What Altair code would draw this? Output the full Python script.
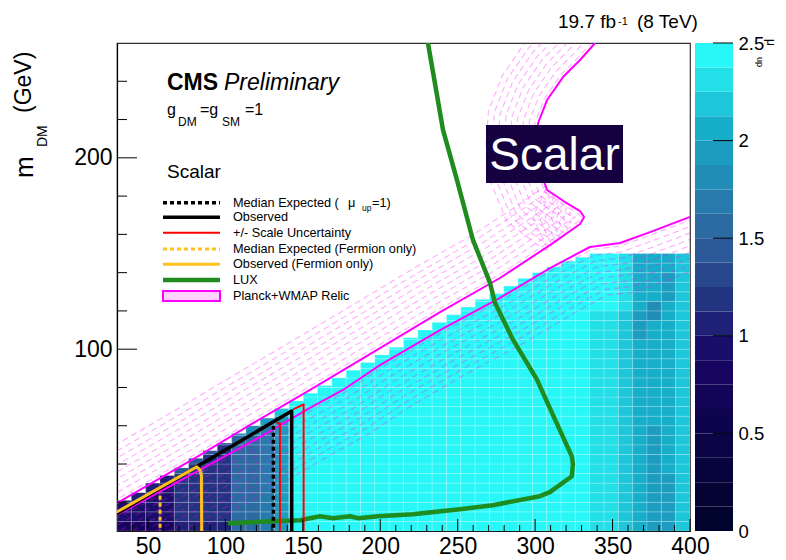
import altair as alt
import pandas as pd
import numpy as np

FONT = "Liberation Sans"
W, H = 573, 488
X0, X1 = 30.0, 400.0
Y0, Y1 = 5.0, 260.0

# ---------------- data ----------------
# heat-map bins along the mediator mass (GeV)
mmed_edges = [30.0, 39.25, 48.5, 57.75, 67.0, 76.25, 85.5, 94.75, 104.0, 113.25,
              122.5, 131.75, 141.0, 150.25, 159.5, 168.75, 178.0, 187.25, 196.5, 205.75,
              215.0, 224.25, 233.5, 242.75, 252.0, 261.25, 270.5, 279.75, 289.0, 298.25,
              307.5, 316.75, 326.0, 335.25, 344.5, 353.75, 363.0, 372.25, 381.5, 390.75, 400.0]
# lower edges of the DM-mass rows (GeV), 5 GeV high
mdm_row_low = [5, 10, 15, 20, 25, 30, 35, 40, 45, 50, 55, 60, 65, 70, 75, 80, 85, 90,
               95, 100, 105, 110, 115, 120, 125, 130, 135, 140, 145]
# upper edge of the filled area in each mediator column (GeV)
col_top = [21, 25, 30, 34, 38, 43, 47, 51, 56, 60, 64, 69, 73, 77, 81, 85, 89, 93, 97, 101,
           106, 110, 114, 118, 122, 126, 129, 133, 137, 140, 143, 146, 148, 150, 150, 150, 150, 150, 150, 150]
# mu_up level per cell ('0'..'j' = 20 bands of 0.125, 'j' = 2.5 and above); top row first
mu_grid = [
    ".......... .......... .......... .jjjjigggh",
    ".......... .......... .......... jjjjjigggh",
    ".......... .......... ........jj jjjjjiggfh",
    ".......... .......... .......jjj jjjjjiggfh",
    ".......... .......... .....jjjjj jjjjjiggfh",
    ".......... .......... ....jjjjjj jjjjjigegh",
    ".......... .......... ...jjjjjjj jjjiihfegh",
    ".......... .......... ..jjjjjjjj jjjiihfggh",
    ".......... .......... jjjjjjjjjj jjjiihfggh",
    ".......... .........j jjjjjjjjjj jjjiihgggh",
    ".......... ........jj jjjjjjjjjj jjjiihgggh",
    ".......... .......jjj jjjjjjjjjj jjjiihgggh",
    ".......... ......jjjj jjjjjjjjjj jjjiihgggh",
    ".......... ....jjjjjj jjjjjjjjjj jjjiihgggh",
    ".......... ...jjjjjjj jjjjjjjjjj jjjiihgggh",
    ".......... ..jjjjjjjj jjjjjjjjjj jjjiihgggh",
    ".......... .hjjjjjjjj jjjjjjjjjj jjjiihgggh",
    ".......... ffjjjjjjjj jjjjjjjjjj jjjiihgggh",
    "........ee dfjjjjjjjj jjjjjjjjjj jjjiihgfgh",
    ".......bcc dfjjjjjjjj jjjjjjjjjj jjjiihgfgh",
    "......b9cc dfjjjjjjjj jjjjjjjjjj jjjiihgfgh",
    ".....b99cc dfjjjjjjjj jjjjjjjjjj jjjiihgfgh",
    "....b999cc dfjjjjjjjj jjjjjjjjjj jjjiihgfgh",
    "...89999cc dfjjjjjjjj jjjjjjjjjj jjjiihgffh",
    "..879999cc dfjjjjjjjj jjjjjjjjjj jjjiihgffh",
    "88779999cc dfjjjjjjjj jjjjjjjjjj jjjiihgffh",
    "77779999cc dfjjjjjjjj jjjjjjjjjj jjjiihgffh",
    "77779999cc dfjjjjjjjj jjjjjjjjjj jjjiihgffh",
    "66668888cc dfjjjjjjjj jjjjjjjjjj jjjiihgffh",
]
LEVELS = "0123456789abcdefghij"

# limit curves (mediator mass, DM mass) in GeV
lux_mmed = [229.1, 230.8, 240.5, 249.5, 259.8, 270.8, 274.0, 285.6, 301.1, 312.8, 323.7, 324.4,
            323.7, 309.5, 303.1, 272.7, 251.4, 221.1, 198.5, 185.6, 180.4, 169.4, 161.1, 148.1, 101.7]
lux_mdm = [268.0, 260.0, 214.6, 188.5, 157.2, 134.8, 124.4, 105.1, 84.2, 63.3, 44.0, 39.9,
           33.6, 25.3, 23.2, 18.5, 16.4, 13.8, 12.7, 11.7, 12.7, 11.7, 12.7, 10.6, 9.1]

relicA_mmed = [22.0, 30.0, 83.6, 115.9, 156.6, 199.8, 238.6, 277.3, 309.6, 329.0, 331.6, 329.0,
               319.3, 307.7, 303.1, 301.2, 301.9, 307.7, 318.0, 329.0, 338.7, 348.4]
relicA_mdm = [15.9, 19.6, 44.7, 60.4, 79.7, 100.6, 119.4, 137.2, 154.4, 165.4, 169.1, 172.2,
              176.9, 183.2, 193.6, 207.7, 218.2, 230.2, 242.2, 251.1, 260.0, 267.8]
relicB_mmed = [22.0, 30.0, 83.6, 122.3, 154.6, 175.9, 199.8, 238.6, 277.3, 309.6, 335.4, 354.8,
               374.2, 400.0, 410.0]
relicB_mdm = [9.9, 13.4, 36.9, 54.1, 69.3, 78.7, 91.7, 110.0, 126.8, 142.4, 153.4, 155.5,
              161.2, 169.1, 172.2]

obs_mmed = [25.0, 82.5, 142.8, 142.8]
obs_mdm = [11.8, 39.1, 67.7, 3.0]
exp_mmed = [131.0, 131.0]
exp_mdm = [3.0, 60.5]
scale_lo_mmed = [133.1, 135.2, 135.2]
scale_lo_mdm = [61.3, 61.3, 3.0]
scale_hi_mmed = [143.8, 150.5, 150.5]
scale_hi_mdm = [68.6, 71.2, 3.0]
ferm_obs_mmed = [25.0, 81.5, 83.5, 84.5, 84.7]
ferm_obs_mdm = [12.7, 38.5, 37.0, 34.0, 3.0]
ferm_exp_mmed = [57.8, 57.8]
ferm_exp_mdm = [3.0, 25.1]

legend_labels = ["Median Expected (", "Observed", "+/- Scale Uncertainty",
                 "Median Expected (Fermion only)", "Observed (Fermion only)", "LUX",
                 "Planck+WMAP Relic"]

x_major = [50, 100, 150, 200, 250, 300, 350, 400]
x_minor = [40, 60, 70, 80, 90, 110, 120, 130, 140, 160, 170, 180, 190, 210, 220, 230, 240,
           260, 270, 280, 290, 310, 320, 330, 340, 360, 370, 380, 390]
y_major = [100, 200]
y_minor = [20, 40, 60, 80, 120, 140, 160, 180, 220, 240]
cbar_ticks = [0, 0.5, 1, 1.5, 2, 2.5]

# ---------------- styling helpers ----------------
def palette20():
    stops = [0.0, 0.34, 0.61, 0.84, 1.0]
    R = [0.00, 0.09, 0.18, 0.09, 0.16]
    G = [0.01, 0.02, 0.39, 0.68, 0.97]
    B = [0.17, 0.39, 0.62, 0.79, 0.97]
    out = []
    for i in range(20):
        f = i / 19
        r, g, b = (np.interp(f, stops, c) for c in (R, G, B))
        out.append('#%02x%02x%02x' % (int(round(r * 255)), int(round(g * 255)), int(round(b * 255))))
    return out

PAL = palette20()
xs = alt.Scale(domain=[X0, X1], nice=False, zero=False)
ys = alt.Scale(domain=[Y0, Y1], nice=False, zero=False)
cs = alt.Scale(type='quantize', domain=[0, 2.5], range=PAL, nice=False, zero=False)

one = pd.DataFrame({'a': [0]})

def X(f='x'):
    return alt.X(f + ':Q', scale=xs, title=None)

def Y(f='y'):
    return alt.Y(f + ':Q', scale=ys, title=None)

def curve(mx, my, color, width, dash=None, opacity=1.0):
    df = pd.DataFrame({'x': mx, 'y': my, 'i': list(range(len(mx)))})
    kw = dict(color=color, strokeWidth=width, clip=True, strokeJoin='round', opacity=opacity)
    if dash:
        kw['strokeDash'] = dash
    return alt.Chart(df).mark_line(**kw).encode(x=X(), y=Y(), order='i:Q')

def hatch_rows(mx, my, side, offsets):
    # rows of dashes running parallel to a contour, on one side of it (ROOT-style hatching)
    px = (np.array(mx) - X0) * W / (X1 - X0)
    py = (Y1 - np.array(my)) * H / (Y1 - Y0)
    tx, ty = np.gradient(px), np.gradient(py)
    n = np.hypot(tx, ty)
    tx, ty = tx / n, ty / n
    nx, ny = side * ty, -side * tx
    frames = []
    for j, d in enumerate(offsets):
        ox = X0 + (px + d * nx) * (X1 - X0) / W
        oy = Y1 - (py + d * ny) * (Y1 - Y0) / H
        frames.append(pd.DataFrame({'x': ox, 'y': oy, 'i': list(range(len(ox))), 'row': j}))
    df = pd.concat(frames)
    return alt.Chart(df).mark_line(color='#ff00ff', strokeWidth=1.2, opacity=0.3,
                                   strokeDash=[6, 4], clip=True).encode(
        x=X(), y=Y(), detail='row:N', order='i:Q')

def txt(s, x, y, size, **kw):
    base = dict(text=s, fontSize=size, font=FONT, align='left', baseline='alphabetic', color='black')
    base.update(kw)
    return alt.Chart(one).mark_text(**base).encode(x=alt.value(x), y=alt.value(y))

def seg(x1, x2, y, color, width, dash=None):
    kw = dict(color=color, strokeWidth=width)
    if dash:
        kw['strokeDash'] = dash
    return alt.Chart(one).mark_rule(**kw).encode(x=alt.value(x1), x2=alt.value(x2), y=alt.value(y))

# ---------------- heat map ----------------
cells = []
for r, line in enumerate(mu_grid[::-1]):
    line = line.replace(" ", "")
    lo = mdm_row_low[r]
    for k, ch in enumerate(line):
        if ch == '.':
            continue
        top = min(lo + 5, col_top[k])
        if top <= lo:
            continue
        cells.append({'x': mmed_edges[k], 'x2': mmed_edges[k + 1], 'y': lo, 'y2': top,
                      'mu': (LEVELS.index(ch) + 0.5) * 0.125})
heat_df = pd.DataFrame(cells)

heat = alt.Chart(heat_df).mark_rect(stroke='white', strokeWidth=0.6, strokeOpacity=0.3).encode(
    x=alt.X('x:Q', scale=xs, title=None,
            axis=alt.Axis(values=x_major, ticks=False, grid=False, domainColor='black', domainWidth=1.2,
                          labelFontSize=23, labelFont=FONT, labelColor='black', labelPadding=4,
                          labelFlush=False, labelOverlap=False)),
    x2='x2:Q',
    y=alt.Y('y:Q', scale=ys, title=None,
            axis=alt.Axis(values=y_major, ticks=False, grid=False, domainColor='black', domainWidth=1.2,
                          labelFontSize=23, labelFont=FONT, labelColor='black', labelPadding=5,
                          labelFlush=False, labelOverlap=False)),
    y2='y2:Q',
    color=alt.Color('mu:Q', scale=cs, legend=None),
)

HATCH = [3, 9, 15, 21, 27, 33, 39, 45, 51]
layers = [
    heat,
    hatch_rows(relicA_mmed, relicA_mdm, +1, HATCH),
    hatch_rows(relicB_mmed, relicB_mdm, -1, HATCH),
    curve(relicA_mmed, relicA_mdm, '#ff00ff', 2),
    curve(relicB_mmed, relicB_mdm, '#ff00ff', 2),
    curve(lux_mmed, lux_mdm, '#1e8c1e', 4.5),
    curve(exp_mmed, exp_mdm, 'black', 3.5, dash=[4, 3]),
    curve(obs_mmed, obs_mdm, 'black', 3.5),
    curve(scale_lo_mmed, scale_lo_mdm, '#ff0000', 2),
    curve(scale_hi_mmed, scale_hi_mdm, '#ff0000', 2),
    curve(ferm_exp_mmed, ferm_exp_mdm, '#ffc020', 3, dash=[4, 3]),
    curve(ferm_obs_mmed, ferm_obs_mdm, '#ffc020', 3),
]

# inward ticks
layers += [
    alt.Chart(pd.DataFrame({'v': x_major})).mark_rule(color='black', strokeWidth=1).encode(
        x=X('v'), y=alt.value(H), y2=alt.value(H - 12)),
    alt.Chart(pd.DataFrame({'v': x_minor})).mark_rule(color='black', strokeWidth=1).encode(
        x=X('v'), y=alt.value(H), y2=alt.value(H - 6)),
    alt.Chart(pd.DataFrame({'v': y_major})).mark_rule(color='black', strokeWidth=1).encode(
        y=Y('v'), x=alt.value(0), x2=alt.value(20)),
    alt.Chart(pd.DataFrame({'v': y_minor})).mark_rule(color='black', strokeWidth=1).encode(
        y=Y('v'), x=alt.value(0), x2=alt.value(10)),
]

# legend
ly = [159.7, 174.3, 189.7, 206.0, 221.3, 237.0, 253.0]
layers += [
    seg(46, 103, ly[0], 'black', 3.5, dash=[4, 3]),
    seg(46, 103, ly[1], 'black', 3.5),
    seg(46, 103, ly[2], '#ff0000', 2),
    seg(46, 103, ly[3], '#ffc020', 3, dash=[4, 3]),
    seg(46, 103, ly[4], '#ffc020', 3),
    seg(46, 103, ly[5], '#1e8c1e', 4.5),
    alt.Chart(one).mark_rect(fill='#ffd2ff', stroke='#ff00ff', strokeWidth=2).encode(
        x=alt.value(46), x2=alt.value(103), y=alt.value(ly[6] - 5), y2=alt.value(ly[6] + 5)),
]
for lab, yy in zip(legend_labels, ly):
    layers.append(txt(lab, 116, yy, 12.7, baseline='middle'))
layers += [
    txt("\u03bc", 231, ly[0], 12.7, baseline='middle'),
    txt("up", 245, ly[0] + 5, 8.5, baseline='middle'),
    txt("=1)", 255, ly[0], 12.7, baseline='middle'),
]

# annotations
layers += [
    txt("CMS", 50, 47, 23, fontWeight='bold'),
    txt("Preliminary", 107, 47, 23, fontStyle='italic'),
    txt("g", 50, 72, 16), txt("DM", 61, 82.5, 12), txt("=g", 83, 72, 16),
    txt("SM", 105, 82.5, 12), txt("=1", 128, 72, 16),
    txt("Scalar", 50, 134.5, 19),
    alt.Chart(one).mark_rect(fill='#150040').encode(
        x=alt.value(369), x2=alt.value(506), y=alt.value(82), y2=alt.value(140)),
    txt("Scalar", 437.5, 127, 46, align='center', color='white'),
    txt("19.7 fb", 441, -15, 19),
    txt("-1", 501, -18, 11),
    txt("(8 TeV)", 520, -15, 19),
    txt("m", -84, 135, 26, angle=270),
    txt("DM", -70, 104, 14, angle=270),
    txt("(GeV)", -86, 70, 23, angle=270),
    # invisible anchors fixing the plot origin on the page and reserving room on the right
    alt.Chart(one).mark_rule(strokeOpacity=0).encode(
        x=alt.value(-109), x2=alt.value(-109), y=alt.value(-35), y2=alt.value(-34)),
    alt.Chart(one).mark_rule(strokeOpacity=0).encode(
        x=alt.value(660), x2=alt.value(660), y=alt.value(0), y2=alt.value(1)),
]

main = alt.layer(*layers)

# colour bar
cb_lo = [i * 0.125 for i in range(20)]
cb_df = pd.DataFrame({'lo': cb_lo, 'hi': [v + 0.125 for v in cb_lo], 'mu': [v + 0.0625 for v in cb_lo]})
cbs = alt.Scale(domain=[0, 2.5], nice=False, zero=False)
cbar = alt.Chart(cb_df).mark_rect().encode(
    x=alt.value(578), x2=alt.value(616),
    y=alt.Y('lo:Q', scale=cbs, title=None,
            axis=alt.Axis(orient='right', offset=43, values=cbar_ticks, domain=False, ticks=False,
                          grid=False, labelFontSize=18.5, labelFont=FONT, labelColor='black',
                          labelPadding=5, labelFlush=False, labelOverlap=False, format='~g')),
    y2='hi:Q',
    color=alt.Color('mu:Q', scale=cs, legend=None),
)
cb_ticks = alt.Chart(pd.DataFrame({'v': cbar_ticks[1:]})).mark_rule(color='black', strokeWidth=1).encode(
    y=alt.Y('v:Q', scale=cbs, title=None), x=alt.value(596), x2=alt.value(616))
cb_title = alt.layer(
    txt("\u03bc", 650, -4, 12, angle=90),
    txt("up", 640, 14, 9, angle=90),
)
colorbar = alt.layer(cbar, cb_ticks, cb_title)

chart = alt.layer(main, colorbar).resolve_scale(y='independent').properties(
    width=W, height=H, padding=0
).configure_view(stroke='#333333', strokeWidth=1.2)

chart.save("out.html", embed_options={"renderer": "svg", "actions": False})
